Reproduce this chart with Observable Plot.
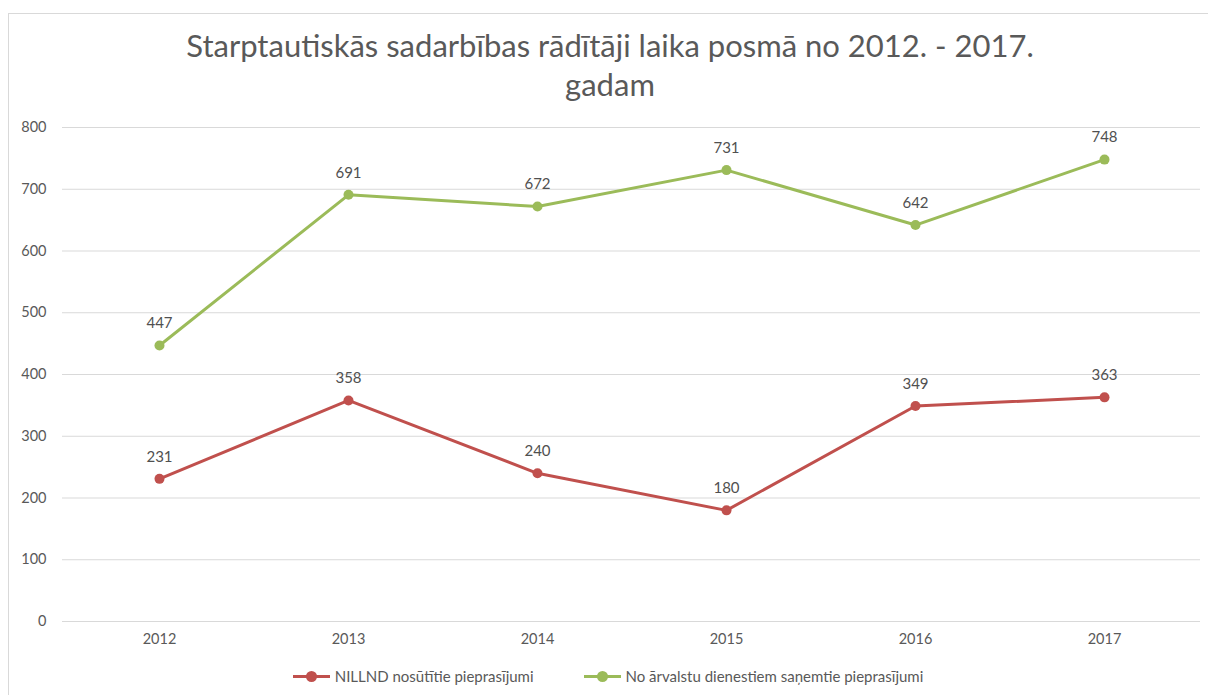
<!DOCTYPE html>
<html><head><meta charset="utf-8">
<script src="https://cdn.jsdelivr.net/npm/d3@7"></script>
<script src="https://cdn.jsdelivr.net/npm/@observablehq/plot@0.6"></script>
<style>
body{margin:0;background:#fff;font-family:Lato,"Open Sans",sans-serif;}
#wrap{position:relative;width:1208px;height:695px;overflow:hidden;}
#frame{position:absolute;left:8px;top:13px;width:1300px;height:800px;border:1px solid #d9d9d9;box-sizing:border-box;}
#title{position:absolute;left:8px;width:1204px;top:26px;text-align:center;font-size:31px;line-height:39px;color:#595959;}
#chart{position:absolute;left:0;top:0;}
#legend{position:absolute;left:0;width:1208px;top:665px;display:flex;justify-content:center;gap:0;font-size:15px;color:#595959;}
.item{display:flex;align-items:center;margin:0 21px;padding-left:8px;}
.sw{position:relative;width:37px;height:22px;margin-right:5px;}
.sw .ln{position:absolute;left:0;right:0;top:10px;height:3px;}
.sw .dt{position:absolute;left:13px;top:6px;width:11px;height:11px;border-radius:50%;}
</style></head>
<body><div id="wrap"><div id="frame"></div><div id="chart"></div><div id="title"></div><div id="legend"></div></div>
<script>
const titleText = "Starptautiskās sadarbības rādītāji laika posmā no 2012. - 2017.<br>gadam";
const years = ["2012","2013","2014","2015","2016","2017"];
const sentValues = [231,358,240,180,349,363];
const receivedValues = [447,691,672,731,642,748];
const seriesNames = ["NILLND nosūtītie pieprasījumi","No ārvalstu dienestiem saņemtie pieprasījumi"];
const seriesColors = ["#C0504D","#9BBB59"];
const yTicks = [0,100,200,300,400,500,600,700,800];

document.getElementById("title").innerHTML = titleText;

const data = [];
years.forEach((y,i)=>{
  data.push({year:y, value:sentValues[i], series:seriesNames[0]});
  data.push({year:y, value:receivedValues[i], series:seriesNames[1]});
});

const chart = Plot.plot({
  width:1208, height:695,
  marginLeft:62, marginRight:8, marginTop:127, marginBottom:74,
  style:{background:"transparent", fontFamily:"Lato, 'Open Sans', sans-serif", fontSize:"14px", color:"#595959"},
  x:{type:"point", domain:years, padding:0.5},
  y:{domain:[0,800]},
  color:{domain:seriesNames, range:seriesColors},
  marks:[
    Plot.ruleY(yTicks,{stroke:"#d9d9d9", strokeWidth:1}),
    Plot.axisY(yTicks,{tickSize:0, tickPadding:16, fontSize:14.5, fill:"#595959", label:null}),
    Plot.axisX({tickSize:0, tickPadding:12, fontSize:14.5, fill:"#595959", label:null}),
    Plot.line(data,{x:"year", y:"value", z:"series", stroke:"series", strokeWidth:3, strokeLinejoin:"round"}),
    Plot.dot(data,{x:"year", y:"value", fill:"series", r:5}),
    Plot.text(data,{x:"year", y:"value", text:d=>String(d.value), dy:-22, fontSize:15, fill:"#505050"})
  ]
});
document.getElementById("chart").appendChild(chart);

const legend = document.getElementById("legend");
seriesNames.forEach((n,i)=>{
  const it = document.createElement("div"); it.className="item";
  it.innerHTML = `<div class="sw"><div class="ln" style="background:${seriesColors[i]}"></div><div class="dt" style="background:${seriesColors[i]}"></div></div><span>${n}</span>`;
  legend.appendChild(it);
});
</script></body></html>
